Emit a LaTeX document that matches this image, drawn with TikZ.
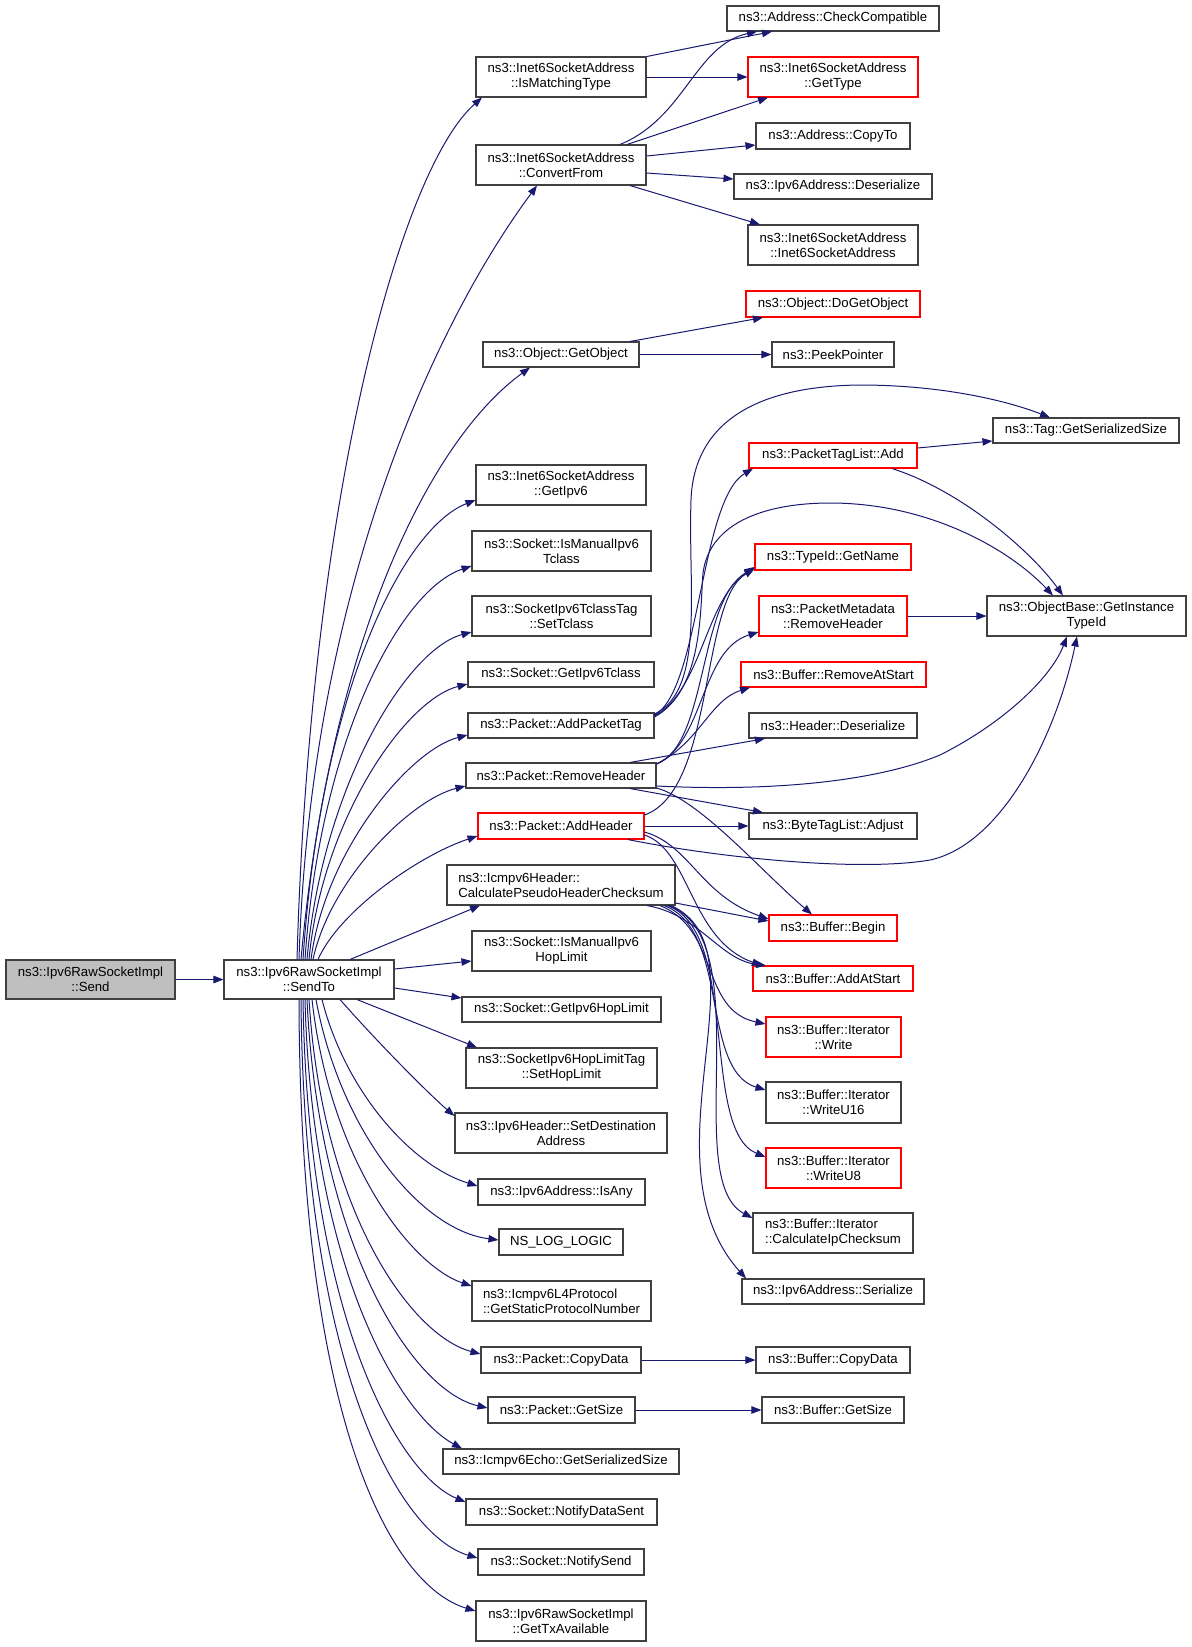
\documentclass[tikz,border=0pt]{standalone}
\usepackage{fontspec}
\setmainfont{Liberation Sans}
\usetikzlibrary{arrows.meta}
\definecolor{edgec}{HTML}{191970}
\definecolor{boxred}{HTML}{FF0000}
\definecolor{boxgray}{HTML}{BFBFBF}
\definecolor{boxline}{HTML}{404040}
\newcommand\bx[7][]{\node[box,#1,minimum width={(#5-#3)*0.75pt},minimum height={(#6-#4)*0.75pt}] (#2) at ({(#3+#5)/2},{(#4+#6)/2}) {#7};}
\begin{document}
\begin{tikzpicture}[x=0.75pt,y=-0.75pt,
  box/.style={draw=boxline,line width=0.8pt,inner sep=0pt,align=center,
    font=\fontsize{9.9}{11.25}\selectfont},
  rbox/.style={draw=boxred},
  edge/.style={draw=edgec,line width=0.75pt,-{Triangle[length=7.5pt,width=5.6pt]}}]
\useasboundingbox (0,0) rectangle (1192,1647);
% left
\bx[fill=boxgray]{send}{6}{960}{175}{999}{ns3::Ipv6RawSocketImpl\\::Send}
\bx{sendto}{224}{960}{394}{999}{ns3::Ipv6RawSocketImpl\\::SendTo}
% middle column
\bx{ismatch}{476}{57}{646}{97}{ns3::Inet6SocketAddress\\::IsMatchingType}
\bx{convfrom}{476}{145}{646}{185}{ns3::Inet6SocketAddress\\::ConvertFrom}
\bx{getobj}{483}{342}{639}{367}{ns3::Object::GetObject}
\bx{getipv6}{476}{465}{646}{505}{ns3::Inet6SocketAddress\\::GetIpv6}
\bx{ismantc}{472}{531}{651}{571}{ns3::Socket::IsManualIpv6\\Tclass}
\bx{settc}{472}{596}{651}{636}{ns3::SocketIpv6TclassTag\\::SetTclass}
\bx{gettc}{468}{662}{654}{687}{ns3::Socket::GetIpv6Tclass}
\bx{addpt}{468}{713}{654}{738}{ns3::Packet::AddPacketTag}
\bx{remhdr}{466}{763}{656}{788}{ns3::Packet::RemoveHeader}
\bx[rbox]{addhdr}{478}{813}{644}{839}{ns3::Packet::AddHeader}
\bx[align=left]{calc}{447}{865}{675}{905}{ns3::Icmpv6Header::\\CalculatePseudoHeaderChecksum}
\bx{ismanhl}{472}{931}{651}{971}{ns3::Socket::IsManualIpv6\\HopLimit}
\bx{gethl}{462}{997}{661}{1022}{ns3::Socket::GetIpv6HopLimit}
\bx{sethl}{466}{1048}{657}{1088}{ns3::SocketIpv6HopLimitTag\\::SetHopLimit}
\bx{setdst}{455}{1113}{667}{1153}{ns3::Ipv6Header::SetDestination\\Address}
\bx{isany}{478}{1179}{645}{1205}{ns3::Ipv6Address::IsAny}
\bx{nslog}{499}{1229}{623}{1255}{NS\_LOG\_LOGIC}
\bx[align=left]{getspn}{472}{1281}{651}{1321}{ns3::Icmpv6L4Protocol\\::GetStaticProtocolNumber}
\bx{pcopy}{481}{1347}{641}{1373}{ns3::Packet::CopyData}
\bx{psize}{488}{1397}{635}{1423}{ns3::Packet::GetSize}
\bx{echo}{443}{1449}{679}{1474}{ns3::Icmpv6Echo::GetSerializedSize}
\bx{nds}{466}{1499}{657}{1525}{ns3::Socket::NotifyDataSent}
\bx{nsend}{478}{1549}{644}{1575}{ns3::Socket::NotifySend}
\bx{gettx}{476}{1601}{646}{1641}{ns3::Ipv6RawSocketImpl\\::GetTxAvailable}
% right column
\bx{chk}{727}{6}{939}{31}{ns3::Address::CheckCompatible}
\bx[rbox]{gettype}{748}{57}{918}{97}{ns3::Inet6SocketAddress\\::GetType}
\bx{copyto}{756}{123}{910}{149}{ns3::Address::CopyTo}
\bx{deser6}{734}{174}{932}{199}{ns3::Ipv6Address::Deserialize}
\bx{i6sa}{748}{225}{918}{265}{ns3::Inet6SocketAddress\\::Inet6SocketAddress}
\bx[rbox]{dogetobj}{746}{291}{920}{317}{ns3::Object::DoGetObject}
\bx{peek}{772}{342}{894}{367}{ns3::PeekPointer}
\bx[rbox]{ptladd}{749}{443}{917}{468}{ns3::PacketTagList::Add}
\bx[rbox]{getname}{755}{544}{911}{570}{ns3::TypeId::GetName}
\bx[rbox]{pmrem}{759}{596}{907}{636}{ns3::PacketMetadata\\::RemoveHeader}
\bx[rbox]{remstart}{741}{662}{926}{687}{ns3::Buffer::RemoveAtStart}
\bx{hdrdeser}{749}{713}{917}{738}{ns3::Header::Deserialize}
\bx{adjust}{749}{813}{917}{839}{ns3::ByteTagList::Adjust}
\bx[rbox]{begin}{769}{915}{897}{941}{ns3::Buffer::Begin}
\bx[rbox]{addatstart}{753}{966}{913}{991}{ns3::Buffer::AddAtStart}
\bx[rbox]{write}{766}{1017}{901}{1057}{ns3::Buffer::Iterator\\::Write}
\bx{wu16}{766}{1082}{901}{1123}{ns3::Buffer::Iterator\\::WriteU16}
\bx[rbox]{wu8}{766}{1148}{901}{1188}{ns3::Buffer::Iterator\\::WriteU8}
\bx[align=left]{ipcs}{753}{1213}{913}{1253}{ns3::Buffer::Iterator\\::CalculateIpChecksum}
\bx{ser6}{742}{1279}{924}{1304}{ns3::Ipv6Address::Serialize}
\bx{bcopy}{756}{1347}{910}{1373}{ns3::Buffer::CopyData}
\bx{bsize}{762}{1397}{904}{1423}{ns3::Buffer::GetSize}
% far right
\bx{tagss}{993}{418}{1179}{443}{ns3::Tag::GetSerializedSize}
\bx{giti}{987}{596}{1186}{636}{ns3::ObjectBase::GetInstance\\TypeId}

% edges
\draw[edge] (send.east) -- (sendto.west);
% fan up
\draw[edge] (297,0 |- sendto.north) .. controls (310,500) and (400,170) .. (482,0 |- ismatch.south);
\draw[edge] (299,0 |- sendto.north) .. controls (310,600) and (430,330) .. (537,0 |- convfrom.south);
\draw[edge] (301,0 |- sendto.north) .. controls (330,640) and (430,440) .. (530,0 |- getobj.south);
\draw[edge] (303,0 |- sendto.north) .. controls (320,700) and (400,530) .. (getipv6.west |- 0,500);
\draw[edge] (305,0 |- sendto.north) .. controls (320,740) and (400,590) .. (ismantc.west |- 0,566);
\draw[edge] (307,0 |- sendto.north) .. controls (322,790) and (405,650) .. (settc.west |- 0,632);
\draw[edge] (309,0 |- sendto.north) .. controls (322,820) and (405,700) .. (gettc.west |- 0,684);
\draw[edge] (311,0 |- sendto.north) .. controls (325,850) and (410,750) .. (addpt.west |- 0,735);
\draw[edge] (313,0 |- sendto.north) .. controls (330,880) and (410,800) .. (remhdr.west |- 0,786);
\draw[edge] (318,0 |- sendto.north) .. controls (340,910) and (420,855) .. (addhdr.west |- 0,836);
\draw[edge] (350,0 |- sendto.north) -- (480,0 |- calc.south);
\draw[edge] (sendto.east |- 0,969) -- (ismanhl.west |- 0,961);
\draw[edge] (sendto.east |- 0,988) -- (gethl.west |- 0,998);
% fan down
\draw[edge] (357,0 |- sendto.south) -- (477,0 |- sethl.north);
\draw[edge] (340,0 |- sendto.south) .. controls (380,1045) and (430,1095) .. (setdst.west |- 0,1116);
\draw[edge] (322,0 |- sendto.south) .. controls (345,1090) and (410,1165) .. (isany.west |- 0,1186);
\draw[edge] (316,0 |- sendto.south) .. controls (340,1130) and (420,1230) .. (nslog.west |- 0,1240);
\draw[edge] (312,0 |- sendto.south) .. controls (330,1160) and (410,1265) .. (getspn.west |- 0,1286);
\draw[edge] (309,0 |- sendto.south) .. controls (322,1210) and (410,1335) .. (pcopy.west |- 0,1354);
\draw[edge] (307,0 |- sendto.south) .. controls (318,1240) and (410,1390) .. (psize.west |- 0,1408);
\draw[edge] (305,0 |- sendto.south) .. controls (312,1270) and (400,1415) .. (462,0 |- echo.north);
\draw[edge] (303,0 |- sendto.south) .. controls (308,1320) and (400,1475) .. (nds.west |- 0,1502);
\draw[edge] (301,0 |- sendto.south) .. controls (304,1370) and (400,1535) .. (nsend.west |- 0,1558);
\draw[edge] (299,0 |- sendto.south) .. controls (300,1420) and (390,1585) .. (gettx.west |- 0,1611);
% top group
\draw[edge] (647,0 |- ismatch.north) -- (772,0 |- chk.south);
\draw[edge] (ismatch.east) -- (gettype.west);
\draw[edge] (620,0 |- convfrom.north) .. controls (685,118) and (695,45) .. (757,0 |- chk.south);
\draw[edge] (627,0 |- convfrom.north) -- (768,0 |- gettype.south);
\draw[edge] (convfrom.east |- 0,156) -- (copyto.west |- 0,145);
\draw[edge] (convfrom.east |- 0,173) -- (deser6.west |- 0,179);
\draw[edge] (630,0 |- convfrom.south) -- (760,0 |- i6sa.north);
\draw[edge] (630,0 |- getobj.north) -- (763,0 |- dogetobj.south);
\draw[edge] (getobj.east) -- (peek.west);
% packet tag / header group
\draw[edge] (addpt.east |- 0,715) .. controls (700,690) and (700,500) .. (753,0 |- ptladd.south);
\draw[edge] (addpt.east |- 0,716) .. controls (702,690) and (705,600) .. (getname.west |- 0,567);
\draw[edge] (addpt.east |- 0,714) .. controls (705,690) and (688,590) .. (691,500)
  .. controls (694,420) and (760,386) .. (860,385)
  .. controls (940,385) and (1005,400) .. (1050,0 |- tagss.north);
\draw[edge] (addpt.east |- 0,717) .. controls (703,690) and (700,610) .. (703,573)
  .. controls (710,520) and (770,503) .. (830,503)
  .. controls (930,503) and (1010,550) .. (1053,0 |- giti.north);
\draw[edge] (ptladd.east |- 0,448) -- (tagss.west |- 0,441);
\draw[edge] (892,0 |- ptladd.south) .. controls (960,490) and (1030,550) .. (1063,0 |- giti.north);
\draw[edge] (pmrem.east) -- (giti.west);
\draw[edge] (remhdr.east |- 0,764) .. controls (708,745) and (698,600) .. (getname.west |- 0,568);
\draw[edge] (remhdr.east |- 0,764) .. controls (705,742) and (700,650) .. (pmrem.west |- 0,632);
\draw[edge] (remhdr.east |- 0,764) .. controls (700,742) and (710,700) .. (750,0 |- remstart.south);
\draw[edge] (630,0 |- remhdr.north) -- (765,0 |- hdrdeser.south);
\draw[edge] (630,0 |- remhdr.south) -- (763,0 |- adjust.north);
\draw[edge] (remhdr.east |- 0,788) .. controls (700,800) and (760,870) .. (812,0 |- begin.north);
\draw[edge] (remhdr.east |- 0,786) .. controls (780,792) and (880,780) .. (940,755)
  .. controls (1000,725) and (1050,680) .. (1067,0 |- giti.south);
\draw[edge] (addhdr.east) -- (adjust.west);
\draw[edge] (addhdr.east |- 0,815) .. controls (715,790) and (700,600) .. (getname.west |- 0,569);
\draw[edge] (628,0 |- addhdr.south) .. controls (720,858) and (860,872) .. (930,860)
  .. controls (1000,845) and (1055,740) .. (1077,0 |- giti.south);
\draw[edge] (addhdr.east |- 0,832) .. controls (690,845) and (700,895) .. (begin.west |- 0,919);
\draw[edge] (addhdr.east |- 0,835) .. controls (690,850) and (690,940) .. (762,0 |- addatstart.north);
% checksum group
\draw[edge] (calc.east |- 0,903) -- (begin.west |- 0,921);
\draw[edge] (647,0 |- calc.south) .. controls (700,915) and (720,960) .. (766,0 |- addatstart.north);
\draw[edge] (660,0 |- calc.south) .. controls (720,930) and (700,1010) .. (write.west |- 0,1024);
\draw[edge] (664,0 |- calc.south) .. controls (730,930) and (700,1070) .. (wu16.west |- 0,1090);
\draw[edge] (667,0 |- calc.south) .. controls (740,930) and (700,1130) .. (wu8.west |- 0,1157);
\draw[edge] (669,0 |- calc.south) .. controls (760,940) and (680,1180) .. (ipcs.west |- 0,1218);
\draw[edge] (671,0 |- calc.south) .. controls (770,950) and (640,1160) .. (746,0 |- ser6.north);
% bottom pairs
\draw[edge] (pcopy.east) -- (bcopy.west);
\draw[edge] (psize.east) -- (bsize.west);
\end{tikzpicture}
\end{document}
